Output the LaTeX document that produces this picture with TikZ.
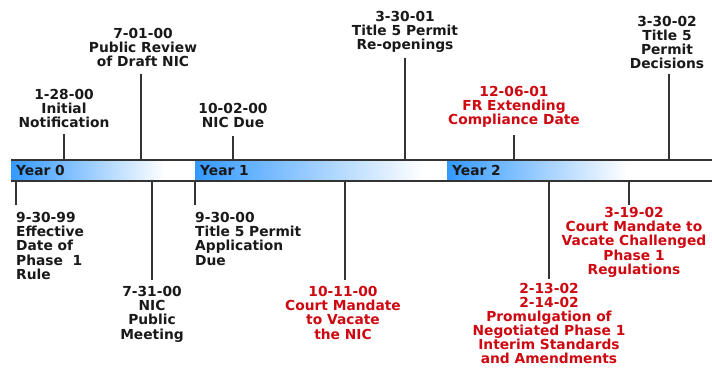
\documentclass[tikz,border=0pt]{standalone}
\usepackage{fontspec}
\setmainfont{DejaVu Sans}
\usetikzlibrary{positioning}
\definecolor{bandblue}{RGB}{51,153,255}
\definecolor{notered}{RGB}{206,8,16}
\definecolor{rulegray}{RGB}{51,51,51}
\tikzset{
  lbl/.style={font=\bfseries\fontsize{13.8}{14.2}\selectfont, inner sep=0pt, align=center, text=black!90},
  redlbl/.style={lbl, text=notered},
  leftlbl/.style={lbl, align=left},
  tick/.style={draw=rulegray, line width=1.3pt},
}
\begin{document}
\begin{tikzpicture}[x=1pt, y=-1pt]
\useasboundingbox (0,0) rectangle (712,367);
% year bands
\foreach \s/\e/\yr in {11/165/0, 195/423/1, 447/627/2} {
  \shade[left color=bandblue, right color=white] (\s,160) rectangle (\e,181);
  \node[lbl, anchor=base west] (year\yr) at (\s+5,175.5) {Year \yr};
}
\draw[rulegray, line width=1.5pt] (11,160) -- (712,160) (11,181) -- (712,181);

% tick ends, upper side
\foreach \n/\x/\t in {a1/64/134, a2/141/74, a3/233/136, a4/405/58, a5/514/135, a6/669/74} {
  \coordinate (band\n) at (\x,160);
  \coordinate (end\n) at (\x,\t);
  \draw[tick] (band\n) -- (end\n);
}
% tick ends, lower side
\foreach \n/\x/\t in {b1/16/205, b2/152/280, b3/195/205, b4/345/280, b5/549/279, b6/629/205} {
  \coordinate (band\n) at (\x,181);
  \coordinate (end\n) at (\x,\t);
  \draw[tick] (band\n) -- (end\n);
}

% labels above the band
\node[lbl, above=6pt of enda1] (initial) {1-28-00\\Initial\\Notification};
\node[lbl, above=7pt of enda2, xshift=2pt] (review) {7-01-00\\Public Review\\of Draft NIC};
\node[lbl, above=8pt of enda3] (nicdue) {10-02-00\\NIC Due};
\node[lbl, above=5pt of enda4] (reopen) {3-30-01\\Title 5 Permit\\Re-openings};
\node[redlbl, above=7pt of enda5] (extend) {12-06-01\\FR Extending\\Compliance Date};
\node[lbl, above=5pt of enda6, xshift=-2pt] (decide) {3-30-02\\Title 5\\Permit\\Decisions};

% labels below the band
\node[leftlbl, below right=7pt and 0pt of endb1] (effective) {9-30-99\\Effective\\Date of\\Phase\ \ 1\\Rule};
\node[lbl, below=6pt of endb2] (meeting) {7-31-00\\NIC\\Public\\Meeting};
\node[leftlbl, below right=7pt and 0pt of endb3] (apply) {9-30-00\\Title 5 Permit\\Application\\Due};
\node[redlbl, below=6pt of endb4, xshift=-2pt] (vacate) {10-11-00\\Court Mandate\\to Vacate\\the NIC};
\node[redlbl, below=4pt of endb5, font=\bfseries\fontsize{13.8}{14}\selectfont] (promul) {2-13-02\\2-14-02\\Promulgation of\\Negotiated Phase 1\\Interim Standards\\and Amendments};
\node[redlbl, below=2pt of endb6, xshift=5pt] (challenge) {3-19-02\\Court Mandate to\\Vacate Challenged\\Phase 1\\Regulations};
\end{tikzpicture}
\end{document}
